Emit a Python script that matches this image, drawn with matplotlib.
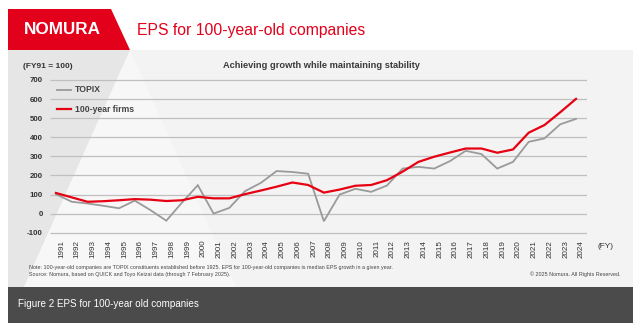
import matplotlib
matplotlib.use("Agg")
import matplotlib.pyplot as plt
from matplotlib.patches import Polygon
from matplotlib.transforms import Affine2D, ScaledTranslation
from matplotlib.lines import Line2D

plt.rcParams['font.family'] = ['Liberation Sans', 'DejaVu Sans']

# ---- data ----
years = list(range(1991, 2025))
topix = [102, 62, 53, 41, 28, 68, 18, -37, 58, 149,
         0, 30, 118, 161, 223, 218, 209, -40, 100, 130,
         114, 147, 236, 245, 236, 275, 329, 312, 236, 271,
         376, 394, 468, 496]
firms_100y = [108, 85, 62, 65, 70, 76, 73, 66, 70, 88,
              80, 80, 102, 121, 141, 163, 150, 110, 126, 146,
              150, 175, 220, 271, 298, 320, 341, 341, 319, 336,
              424, 464, 531, 601]
y_ticks = [-100, 0, 100, 200, 300, 400, 500, 600, 700]
series_names = ["TOPIX", "100-year firms"]

W, H = 640, 331
RED = "#e60012"
GREY = "#9a9a9a"
GRID = "#bfbfbf"

fig = plt.figure(figsize=(W / 100, H / 100), dpi=100)
fig.patch.set_facecolor("white")

# pixel coordinates measured from the top-left corner
P = Affine2D().scale(1 / W, -1 / H).translate(0, 1) + fig.transFigure


def poly(pts, color):
    fig.patches.append(Polygon(pts, closed=True, transform=P, facecolor=color,
                               edgecolor="none", zorder=-5))


# panel background with the faint triangle motif
poly([(8, 50), (633, 50), (633, 287), (8, 287)], "#f3f3f3")
poly([(8, 50), (130, 50), (24, 287), (8, 287)], "#e6e6e6")
poly([(130, 50), (24, 287), (236, 287)], "#f7f7f7")

# header: red logo block and title
poly([(8, 9), (111, 9), (130, 50), (8, 50)], "#e2001a")
fig.text(24, 30, "NOMURA", transform=P, color="white", fontsize=12.3,
         fontweight="bold", va="center", ha="left")
fig.text(137, 30, "EPS for 100-year-old companies", transform=P, color="#e2001a",
         fontsize=11.3, va="center", ha="left")

# footer bar
poly([(8, 287), (633, 287), (633, 323), (8, 323)], "#4b4b4b")
fig.text(18, 304, "Figure 2 EPS for 100-year old companies", transform=P,
         color="white", fontsize=7.1, va="center", ha="left")

# ---- chart ----
px_per_unit = (232.7 - 80) / 800
y_lo, y_hi = -112, 712
ax_l, ax_r = 50, 587
ax_t = 80 - (y_hi - 700) * px_per_unit
ax_b = 232.7 + (-100 - y_lo) * px_per_unit
ax = fig.add_axes([ax_l / W, 1 - ax_b / H, (ax_r - ax_l) / W, (ax_b - ax_t) / H])
ax.set_zorder(2)
ax.set_facecolor("none")
px_per_year = (576 - 56) / 33
ax.set_xlim(1991 - (56 - ax_l) / px_per_year, 2024 + (ax_r - 576) / px_per_year)
ax.set_ylim(y_lo, y_hi)

ax.hlines(y_ticks, 0, 1, transform=ax.get_yaxis_transform(), colors=GRID,
          lw=0.9, zorder=1)

ax.plot(years, topix, color=GREY, lw=1.3, zorder=3, solid_joinstyle="miter")
ax.plot(years, firms_100y, color=RED, lw=1.6, zorder=4, solid_joinstyle="miter")

for s in ax.spines.values():
    s.set_visible(False)
ax.tick_params(length=0)
ax.set_yticks(y_ticks)
ax.set_yticklabels([str(v) for v in y_ticks], fontsize=5.7, fontweight="bold",
                   color="#333333")
ax.tick_params(axis="y", pad=5)
ax.set_xticks(years)
ax.set_xticklabels([str(y) for y in years], rotation=90, fontsize=5.8,
                   color="#333333", va="top", ha="center")
ax.tick_params(axis="x", pad=3.5)
shift = ScaledTranslation(5.5 / 100, 0, fig.dpi_scale_trans)
for lbl in ax.get_xticklabels():
    lbl.set_transform(lbl.get_transform() + shift)

fig.text(598, 246, "(FY)", transform=P, fontsize=6, color="#333333",
         va="center", ha="left")
fig.text(23, 66, "(FY91 = 100)", transform=P, fontsize=6, fontweight="bold",
         color="#333333", va="center", ha="left")
fig.text(321, 65, "Achieving growth while maintaining stability", transform=P,
         fontsize=6.7, fontweight="bold", color="#3a3a3a", va="center", ha="center")

# legend
for yy, col, lw, name in [(90, GREY, 1.3, series_names[0]), (109, RED, 1.6, series_names[1])]:
    fig.lines.append(Line2D([57, 71], [yy, yy], transform=P, color=col, lw=lw, zorder=3))
    fig.text(75, yy, name, transform=P, fontsize=6.2, fontweight="bold",
             color="#444444", va="center", ha="left")

# notes
fig.text(29, 268, "Note: 100-year-old companies are TOPIX constituents established before 1925. "
         "EPS for 100-year-old companies is median EPS growth in a given year.",
         transform=P, fontsize=3.9, color="#444444", va="center", ha="left")
fig.text(29, 274.5, "Source: Nomura, based on QUICK and Toyo Keizai data (through 7 February 2025).",
         transform=P, fontsize=3.9, color="#444444", va="center", ha="left")
fig.text(620, 274.5, "\u00a9 2025 Nomura. All Rights Reserved.", transform=P,
         fontsize=3.9, color="#444444", va="center", ha="right")

fig.savefig("out.png", dpi=100, facecolor="white")
